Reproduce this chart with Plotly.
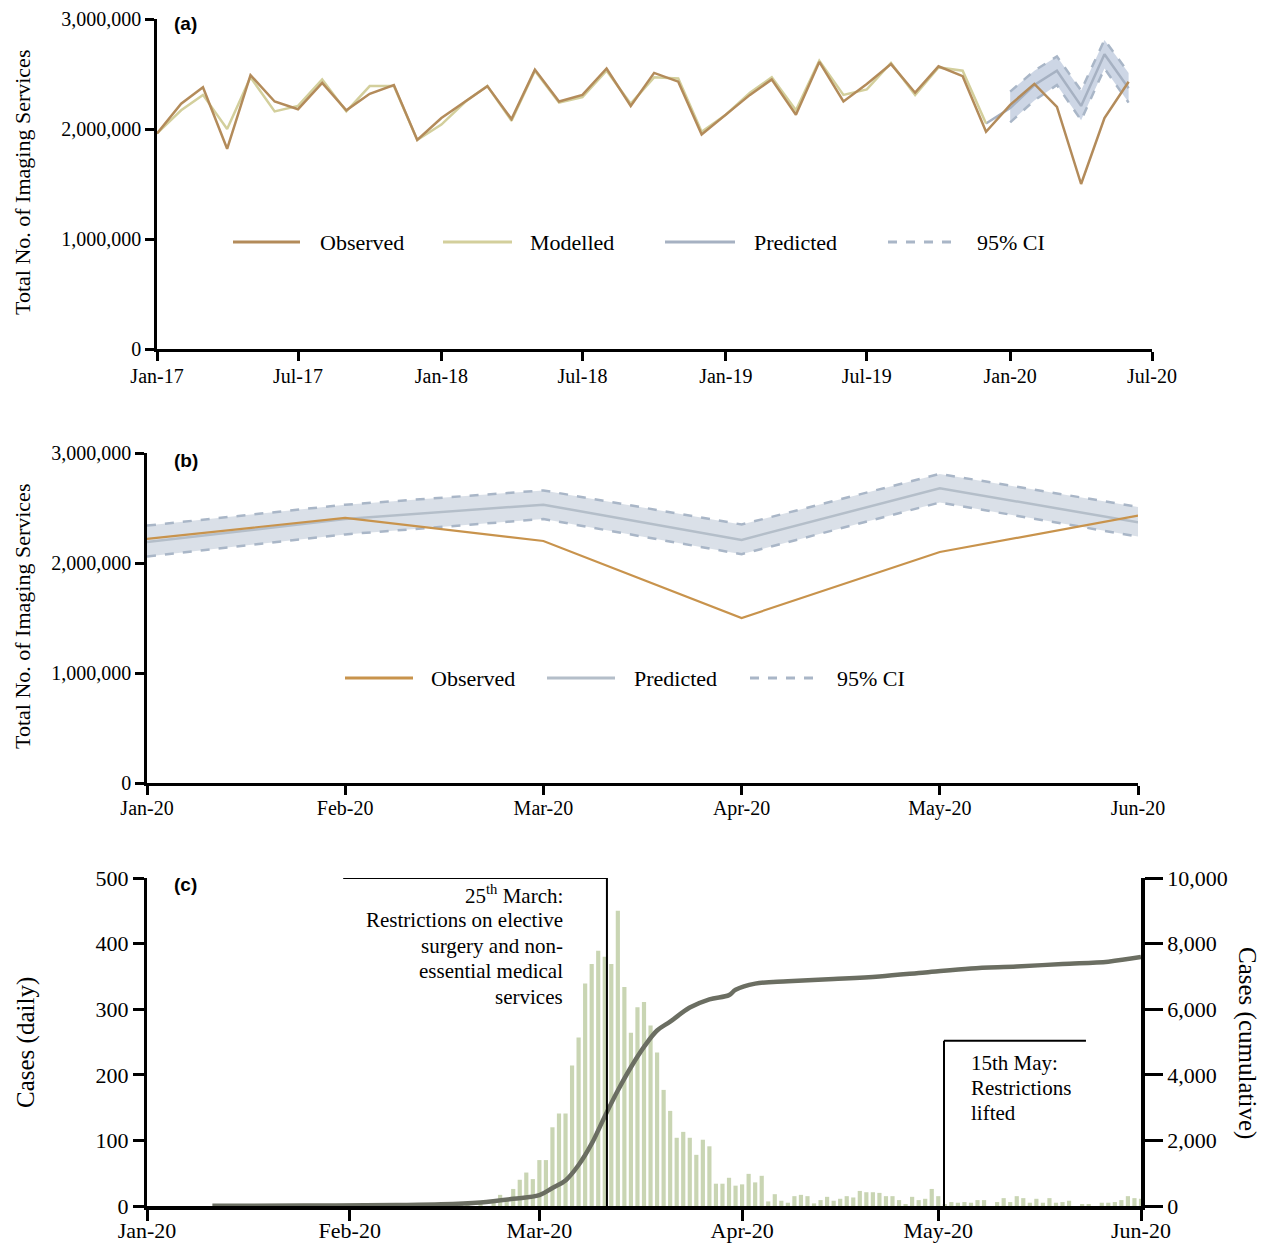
import plotly.graph_objects as go
import pandas as pd

# The page body has an 8px margin; the figure is offset by it inside the 1268x1244 window.
OFF = 8
FW, FH = 1260, 1236
def px(x):
    return (x - OFF) / FW
def py(y):
    return (FH - (y - OFF)) / FH

SERIF = "Liberation Serif, Times New Roman, serif"
SANS = "Liberation Sans, Arial, sans-serif"

# ---------------- Panel (a) data ----------------
months_a = pd.date_range("2017-01-01", "2020-06-01", freq="MS")
observed_a = [1960000, 2230000, 2380000, 1820000, 2490000, 2250000, 2180000, 2420000, 2170000, 2320000, 2400000, 1900000,
              2100000, 2250000, 2390000, 2090000, 2540000, 2250000, 2310000, 2550000, 2210000, 2510000, 2430000, 1950000,
              2130000, 2310000, 2450000, 2130000, 2610000, 2250000, 2410000, 2590000, 2330000, 2570000, 2480000, 1975000,
              2220000, 2410000, 2200000, 1500000, 2100000, 2430000]
months_model = pd.date_range("2017-01-01", "2019-12-01", freq="MS")
modelled_a = [1960000, 2170000, 2310000, 2000000, 2470000, 2160000, 2210000, 2450000, 2160000, 2390000, 2390000, 1900000,
              2040000, 2250000, 2390000, 2075000, 2530000, 2240000, 2290000, 2530000, 2230000, 2470000, 2460000, 1975000,
              2130000, 2330000, 2470000, 2170000, 2620000, 2310000, 2360000, 2600000, 2310000, 2560000, 2530000, 2050000]
months_pred = pd.date_range("2019-12-01", "2020-06-01", freq="MS")
predicted = [2050000, 2190000, 2400000, 2530000, 2210000, 2680000, 2370000]
months_ci = pd.date_range("2020-01-01", "2020-06-01", freq="MS")
ci_upper = [2340000, 2530000, 2660000, 2350000, 2810000, 2510000]
ci_lower = [2060000, 2260000, 2400000, 2080000, 2550000, 2240000]

# ---------------- Panel (b) data ----------------
months_b = ["Jan-20", "Feb-20", "Mar-20", "Apr-20", "May-20", "Jun-20"]
observed_b = [2220000, 2410000, 2200000, 1500000, 2100000, 2430000]
predicted_b = [2190000, 2400000, 2530000, 2210000, 2680000, 2370000]

# ---------------- Panel (c) data ----------------
daily_cases = [2, 5, 6, 6, 0, 6, 0, 8, 17, 11, 26, 40, 51, 41,
               70, 70, 120, 141, 141, 214, 257, 339, 369, 389, 380, 369, 450, 334, 264, 303, 311, 275, 234, 177,
               145, 104, 113, 104, 78, 101, 91, 34, 34, 43, 31, 33, 49, 36, 46,
               7, 18, 8, 5, 15, 17, 15, 4, 9, 14, 8, 11, 15, 13, 23, 21, 21, 20, 15, 15,
               9, 3, 14, 9, 11, 26, 15, 3, 6, 5, 6, 5, 9, 9, 0, 6, 12, 6, 15, 12,
               5, 11, 5, 12, 5, 6, 8, 0, 2, 2, 0, 5, 5, 6, 9, 15, 12, 11]
daily_dates = pd.date_range("2020-02-16", periods=len(daily_cases), freq="D")

cum_dates = ["2020-01-11", "2020-01-25", "2020-02-08", "2020-02-15", "2020-02-21", "2020-02-26",
             "2020-03-01", "2020-03-03", "2020-03-05", "2020-03-07", "2020-03-09", "2020-03-11",
             "2020-03-13", "2020-03-15", "2020-03-17", "2020-03-19", "2020-03-21", "2020-03-24",
             "2020-03-27", "2020-03-30", "2020-03-31", "2020-04-03", "2020-04-08", "2020-04-15",
             "2020-04-22", "2020-04-29", "2020-05-06", "2020-05-13", "2020-05-20", "2020-05-27", "2020-06-01"]
cum_cases = [5, 15, 30, 50, 110, 220,
             330, 550, 780, 1250, 1900, 2730,
             3520, 4230, 4850, 5350, 5620, 6050,
             6300, 6430, 6590, 6780, 6850, 6920,
             7000, 7120, 7240, 7300, 7380, 7450, 7590]

# event markers (panel c)
event1_x = "2020-03-11 08:00"
event1_left = "2020-01-31"
event2_x = "2020-05-01 21:00"
event2_right = "2020-05-23 14:00"
event2_top = 252

C_OBS = "#b38b5a"
C_OBS_B = "#c8934c"
C_MOD = "#d3cf9c"
C_PRED = "#a6b1c2"
C_CI = "#a9b6c7"
C_BAND_A = "rgba(196,207,225,0.85)"
C_BAND_B = "rgba(214,221,230,0.9)"
C_BAR = "#c9d5b3"
C_CUM = "#6b6e62"

fig = go.Figure()

# Panel a
fig.add_trace(go.Scatter(x=months_ci, y=ci_lower, mode="lines",
                         line=dict(color=C_CI, width=2.5, dash="dash"), xaxis="x", yaxis="y"))
fig.add_trace(go.Scatter(x=months_ci, y=ci_upper, mode="lines", fill="tonexty", fillcolor=C_BAND_A,
                         line=dict(color=C_CI, width=2.5, dash="dash"), xaxis="x", yaxis="y"))
fig.add_trace(go.Scatter(x=months_pred, y=predicted, mode="lines",
                         line=dict(color=C_PRED, width=2.5), xaxis="x", yaxis="y"))
fig.add_trace(go.Scatter(x=months_model, y=modelled_a, mode="lines",
                         line=dict(color=C_MOD, width=2.5), xaxis="x", yaxis="y"))
fig.add_trace(go.Scatter(x=months_a, y=observed_a, mode="lines",
                         line=dict(color=C_OBS, width=2.5), xaxis="x", yaxis="y"))

# Panel b
fig.add_trace(go.Scatter(x=months_b, y=ci_lower, mode="lines",
                         line=dict(color=C_CI, width=2.5, dash="dash"), xaxis="x2", yaxis="y2"))
fig.add_trace(go.Scatter(x=months_b, y=ci_upper, mode="lines", fill="tonexty", fillcolor=C_BAND_B,
                         line=dict(color=C_CI, width=2.5, dash="dash"), xaxis="x2", yaxis="y2"))
fig.add_trace(go.Scatter(x=months_b, y=predicted_b, mode="lines",
                         line=dict(color="#b4bec9", width=2.5), xaxis="x2", yaxis="y2"))
fig.add_trace(go.Scatter(x=months_b, y=observed_b, mode="lines",
                         line=dict(color=C_OBS_B, width=2.2), xaxis="x2", yaxis="y2"))

# Panel c
fig.add_trace(go.Bar(x=daily_dates, y=daily_cases, marker=dict(color=C_BAR, line=dict(width=0)),
                     xaxis="x3", yaxis="y3"))
fig.add_trace(go.Scatter(x=cum_dates, y=cum_cases, mode="lines", line=dict(color=C_CUM, width=4.5, shape="spline"),
                         xaxis="x3", yaxis="y4"))

axis_common = dict(showline=True, linecolor="black", linewidth=2.5, ticks="outside", tickcolor="black",
                   tickwidth=2.5, ticklen=9, showgrid=False, zeroline=False, automargin=False,
                   tickfont=dict(family=SERIF, size=20, color="black"))

fig.update_layout(
    width=FW, height=FH, margin=dict(l=0, r=0, t=0, b=0, autoexpand=False),
    paper_bgcolor="white", plot_bgcolor="white", showlegend=False, bargap=0.36,
    xaxis=dict(axis_common, domain=[px(157), px(1152)], anchor="y", type="date",
               range=["2017-01-01", "2020-07-01"], dtick="M6", tick0="2017-01-01", tickformat="%b-%y",
               ticklabelstandoff=-2),
    yaxis=dict(axis_common, domain=[py(349), py(19)], anchor="x", range=[0, 3000000],
               tickvals=[0, 1000000, 2000000, 3000000], tickformat=",d"),
    xaxis2=dict(axis_common, domain=[px(147), px(1138)], anchor="y2", type="category", range=[0, 5],
                ticklabelstandoff=-4),
    yaxis2=dict(axis_common, domain=[py(783), py(453)], anchor="x2", range=[0, 3000000],
                tickvals=[0, 1000000, 2000000, 3000000], tickformat=",d"),
    xaxis3=dict(axis_common, domain=[px(147), px(1141)], anchor="y3", type="date",
                range=["2020-01-01", "2020-06-01"], dtick="M1", tick0="2020-01-01", tickformat="%b-%y",
                linewidth=4, tickwidth=3, ticklen=11, ticklabelstandoff=-9,
                tickfont=dict(family=SERIF, size=22, color="black")),
    yaxis3=dict(axis_common, domain=[py(1206), py(878)], anchor="x3", range=[0, 500], dtick=100,
                linewidth=3, tickwidth=3, ticklen=11, tickfont=dict(family=SERIF, size=22, color="black")),
    yaxis4=dict(axis_common, overlaying="y3", side="right", anchor="x3", range=[0, 10000], dtick=2000,
                tickformat=",d", linewidth=3.5, tickwidth=3, ticklen=18,
                tickfont=dict(family=SERIF, size=22, color="black")),
)

ann = []
def text(x, y, s, size, xanchor="center", angle=0, family=SERIF, bold=False):
    ann.append(dict(x=px(x), y=py(y), xref="paper", yref="paper", text=("<b>%s</b>" % s) if bold else s,
                    showarrow=False, xanchor=xanchor, yanchor="middle", textangle=angle,
                    font=dict(family=family, size=size, color="black")))

text(22, 183, "Total No. of Imaging Services", 22, angle=-90)
text(22, 617, "Total No. of Imaging Services", 22, angle=-90)
text(26, 1043, "Cases (daily)", 25, angle=-90)
text(1247, 1043, "Cases (cumulative)", 25, angle=90)
text(172, 24, "(a)", 19, xanchor="left", family=SANS, bold=True)
text(172, 461, "(b)", 19, xanchor="left", family=SANS, bold=True)
text(172, 884, "(c)", 19, xanchor="left", family=SANS, bold=True)

# event texts
for yy, s in zip([894, 920, 946, 971, 997],
                 ["25<sup>th</sup> March:", "Restrictions on elective", "surgery and non-",
                  "essential medical", "services"]):
    text(565, yy, s, 21, xanchor="right")
for yy, s in zip([1063, 1088, 1113], ["15th May:", "Restrictions", "lifted"]):
    text(969, yy, s, 21, xanchor="left")

shapes = []
# legends (manual)
def leg(x0, x1, y, color, label, dash=None, width=3, tx=None, size=22):
    shapes.append(dict(type="line", xref="paper", yref="paper", x0=px(x0), x1=px(x1), y0=py(y), y1=py(y),
                       line=dict(color=color, width=width, dash=dash) if dash else dict(color=color, width=width)))
    text(tx, y, label, size, xanchor="left")

leg(233, 300, 242, C_OBS, "Observed", tx=318)
leg(443, 512, 242, C_MOD, "Modelled", tx=528)
leg(665, 735, 242, C_PRED, "Predicted", tx=752)
leg(888, 958, 242, C_CI, "95% CI", dash="dash", tx=975)
leg(345, 413, 678, C_OBS_B, "Observed", tx=429)
leg(547, 615, 678, "#b4bec9", "Predicted", tx=632)
leg(750, 818, 678, C_CI, "95% CI", dash="dash", tx=835)

# event marker lines
shapes.append(dict(type="line", xref="x3", yref="y3", x0=event1_x, x1=event1_x, y0=0, y1=500,
                   line=dict(color="black", width=2), layer="above"))
shapes.append(dict(type="line", xref="x3", yref="y3", x0=event1_left, x1=event1_x, y0=500, y1=500,
                   line=dict(color="black", width=2), layer="above"))
shapes.append(dict(type="line", xref="x3", yref="y3", x0=event2_x, x1=event2_x, y0=0, y1=event2_top,
                   line=dict(color="black", width=2), layer="above"))
shapes.append(dict(type="line", xref="x3", yref="y3", x0=event2_x, x1=event2_right, y0=event2_top, y1=event2_top,
                   line=dict(color="black", width=2), layer="above"))

fig.update_layout(annotations=ann, shapes=shapes)
fig.write_html("out.html")
